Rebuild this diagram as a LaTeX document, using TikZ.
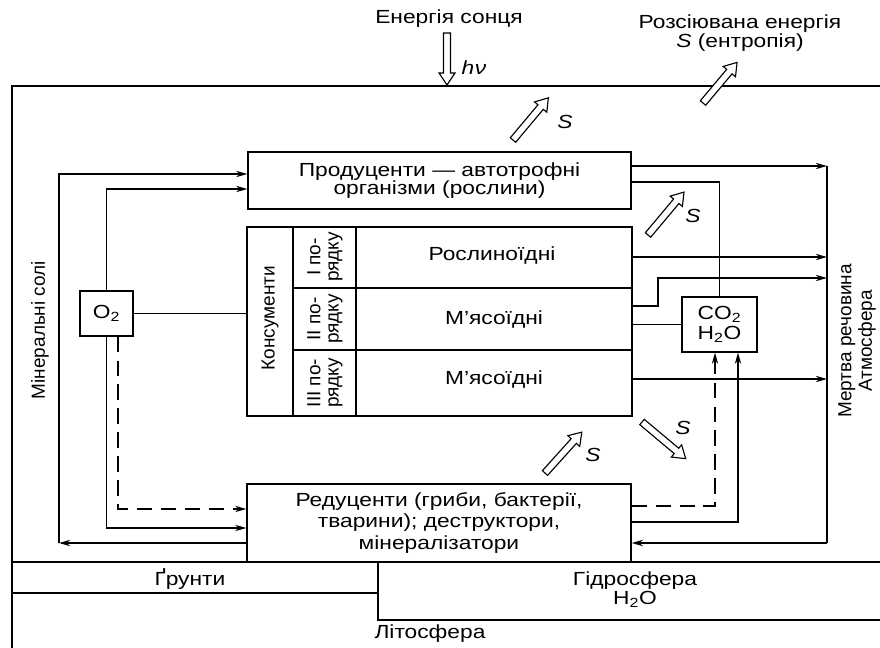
\documentclass[tikz,border=0pt]{standalone}
\usepackage{fontspec}
\setmainfont{Liberation Sans}[FakeStretch=1.2]
\newfontfamily\rotfont{Liberation Sans}
\usetikzlibrary{arrows.meta}
\newcommand\hollowarr[3]{%
  \begin{scope}[shift={(#1)},rotate=#2]
    \draw[line width=0.8pt,fill=white,line join=miter]
      (0,-3.5) -- (#3-12,-3.5) -- (#3-12,-8) -- (#3,0) -- (#3-12,8) -- (#3-12,3.5) -- (0,3.5) -- cycle;
  \end{scope}}
\begin{document}
\begin{tikzpicture}[x=0.025cm,y=-0.025cm,
  font=\fontsize{13.5}{15}\selectfont,
  ln/.style={line width=0.9pt},
  arr/.style={ln,-{Stealth[length=8pt,width=4.5pt]}},
  dsh/.style={dash pattern=on 11pt off 6pt},
  box/.style={draw,line width=0.9pt,inner sep=0pt,align=center},
  txt/.style={inner sep=0pt,align=center},
  rtxt/.style={inner sep=0pt,align=center,rotate=90,font=\rotfont\fontsize{13.5}{15}\selectfont},
  lab/.style={inner sep=0pt,font=\fontsize{13.5}{15}\selectfont\itshape}]
\useasboundingbox (0,0) rectangle (880,648);

% frame and geospheres
\draw[ln] (12,648) -- (12,86) -- (880,86);
\draw[ln] (12,562) -- (880,562);
\draw[ln] (12,593) -- (378,593);
\draw[ln] (378,562) -- (378,620) -- (880,620);
\node[txt] (soil) at (190,579) {Ґрунти};
\node[txt,font=\fontsize{13.5}{13.5}\selectfont] (hydro) at (635,590) {Гідросфера\\H\textsubscript{2}O};
\node[txt] (litho) at (430,634) {Літосфера};

% top texts
\node[txt] (sun) at (449,19) {Енергія сонця};
\node[lab] (hv) at (474,68) {h\kern0.5pt ν};
\node[txt,font=\fontsize{13.5}{14}\selectfont] (dis) at (740,33) {Розсіювана енергія\\\textit{S} (ентропія)};

% boxes
\node[box,minimum width=9.575cm,minimum height=1.425cm,font=\fontsize{13.5}{13}\selectfont] (prod) at (439.5,180.5) {Продуценти — автотрофні\\організми (рослини)};
\node[box,minimum width=9.625cm,minimum height=4.725cm] (cons) at (439.5,321.5) {};
\node[box,minimum width=9.6cm,minimum height=1.95cm,font=\fontsize{13.5}{15.5}\selectfont] (red) at (439,523) {Редуценти (гриби, бактерії,\\тварини); деструктори,\\мінералізатори};
\node[box,minimum width=1.325cm,minimum height=1.125cm] (o2) at (106.5,313.5) {O\textsubscript{2}};
\node[box,minimum width=1.875cm,minimum height=1.375cm,font=\fontsize{13.5}{14}\selectfont] (co2) at (719.5,324.5) {CO\textsubscript{2}\\H\textsubscript{2}O};

% consumers internal grid
\draw[ln] (293,227) -- (293,416);
\draw[ln] (356,227) -- (356,416);
\draw[ln] (293,288) -- (632,288);
\draw[ln] (293,350) -- (632,350);
\node[rtxt] (kons) at (270,318) {Консументи};
\node[rtxt,font=\rotfont\fontsize{13.5}{13}\selectfont] (r1) at (325,257) {I по-\\рядку};
\node[rtxt,font=\rotfont\fontsize{13.5}{13}\selectfont] (r2) at (325,319) {II по-\\рядку};
\node[rtxt,font=\rotfont\fontsize{13.5}{13}\selectfont] (r3) at (325,383) {III по-\\рядку};
\node[txt] (c1) at (492,256) {Рослиноїдні};
\node[txt] (c2) at (494,320) {М’ясоїдні};
\node[txt] (c3) at (494,380) {М’ясоїдні};

% side labels
\node[rtxt] (minsol) at (40,330) {Мінеральні солі};
\node[rtxt,font=\rotfont\fontsize{13.5}{14.5}\selectfont] (dead) at (857,341) {Мертва речовина\\Атмосфера};

% helper coordinates
\coordinate (xms) at (59,0);
\coordinate (xdm) at (827,0);
\coordinate (xdash) at (118,0);
\coordinate (xdco) at (715,0);
\coordinate (xsco) at (738,0);
\coordinate (xstep) at (658,0);
\coordinate (y174) at (0,174);
\coordinate (y189) at (0,189);
\coordinate (y166) at (0,166);
\coordinate (y182) at (0,182);
\coordinate (y257) at (0,257);
\coordinate (y306) at (0,306);
\coordinate (y278) at (0,278);
\coordinate (y379) at (0,379);
\coordinate (y509) at (0,509);
\coordinate (y528) at (0,528);
\coordinate (y543) at (0,543);
\coordinate (y506) at (0,506);
\coordinate (y522) at (0,522);

% left connectors
\draw[arr] (red.west |- y543) -- (xms |- y543);
\draw[arr] (xms |- y543) -- (xms |- y174) -- (prod.west |- y174);
\draw[arr] (o2.north) |- (prod.west |- y189);
\draw[arr] (o2.south) |- (red.west |- y528);
\draw[arr,dsh] (o2.south -| xdash) |- (red.west |- y509);
\draw[ln] (o2.east) -- (cons.west |- o2.east);

% right connectors
\draw[arr] (prod.east |- y166) -- (xdm |- y166);
\draw[ln] (prod.east |- y182) -| (co2.north);
\draw[arr] (cons.east |- y257) -- (xdm |- y257);
\draw[arr] (cons.east |- y306) -| (xstep |- y278) -- (xdm |- y278);
\draw[ln] (cons.east |- co2.west) -- (co2.west);
\draw[arr] (cons.east |- y379) -- (xdm |- y379);
\draw[line width=1.6pt] (xdm |- y166) -- (xdm |- y543);
\draw[arr,line width=1.4pt] (xdm |- y543) -- (red.east |- y543);
\draw[arr,dsh] (red.east |- y506) -| (co2.south -| xdco);
\draw[arr] (red.east |- y522) -| (co2.south -| xsco);

% hollow arrows
\hollowarr{447,33}{-90}{52}
\hollowarr{703,103}{50}{53}
\hollowarr{513,140}{50}{55}
\hollowarr{648,235}{50}{56}
\hollowarr{545,473}{48}{55}
\hollowarr{642,422}{-40}{57}
\node[lab] (s1) at (565,122) {S};
\node[lab] (s2) at (693,216) {S};
\node[lab] (s3) at (593,455) {S};
\node[lab] (s4) at (683,428) {S};
\end{tikzpicture}
\end{document}
